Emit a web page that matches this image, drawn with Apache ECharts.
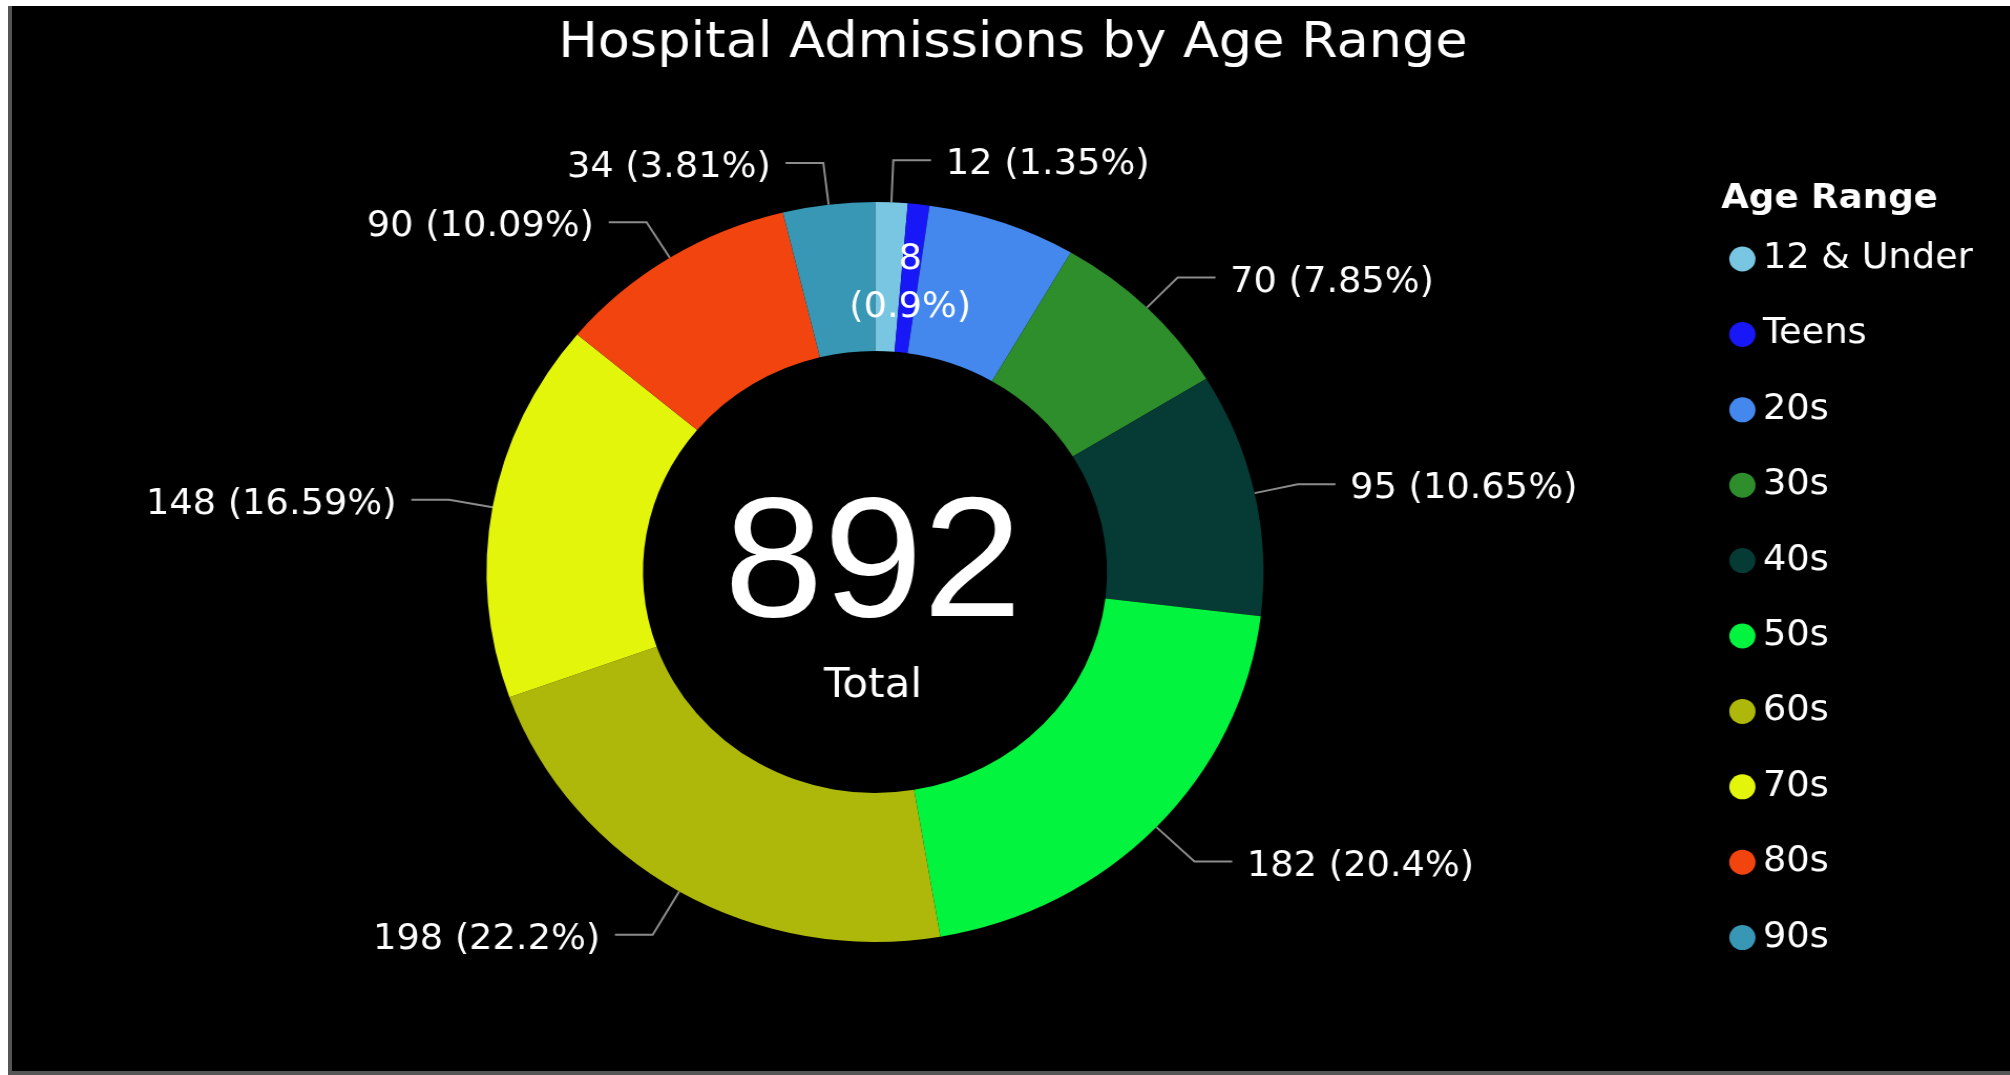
<!DOCTYPE html>
<html>
<head>
<meta charset="utf-8">
<script src="https://cdn.jsdelivr.net/npm/echarts@6/dist/echarts.min.js"></script>
<style>
  html, body { margin: 0; padding: 0; background: #ffffff; width: 2010px; height: 1075px; overflow: hidden; }
  #frame { position: absolute; left: 8px; top: 6px; width: 2002px; height: 1069px; background: #000;
           box-sizing: border-box; border-left: 4px solid #555; border-bottom: 4px solid #555; }
  /* the reference is stretched horizontally by ~5%; the chart is drawn at 2010/1.05 wide and scaled */
  #chart { position: absolute; left: 0; top: 0; width: 1914px; height: 1075px;
           transform: scaleX(1.05); transform-origin: 0 0; }
</style>
</head>
<body>
<div id="frame"></div>
<div id="chart"></div>
<script>
const chartTitle = 'Hospital Admissions by Age Range';
const legendTitle = 'Age Range';
const totalLabel = 'Total';
const categories = ['12 & Under', 'Teens', '20s', '30s', '40s', '50s', '60s', '70s', '80s', '90s'];
const admissions = [12, 8, 55, 70, 95, 182, 198, 148, 90, 34];
const insideLabelCats = ['Teens'];
const hiddenLabelCats = ['20s'];
const longLineCats = ['50s', '60s'];
const palette = ['#78C6E2', '#1717F7', '#4488EE', '#2E8E2C', '#053B34', '#03F43F', '#AEB80B', '#E4F50C', '#F2440F', '#3797B5'];

const total = admissions.reduce((a, b) => a + b, 0);
const FONT = 'DejaVu Sans';
const SX = 1.05;               // horizontal stretch applied by CSS
const px = x => x / SX;        // page x -> chart x

function pct(v) { return +(v / total * 100).toFixed(2); }

const txt = { color: '#ffffff', fontFamily: FONT, fontSize: 35 };

const data = categories.map((name, i) => {
  const item = { name: name, value: admissions[i] };
  if (insideLabelCats.includes(name)) {
    item.label = { position: 'inside',
                   formatter: p => '{sp| }\n{t|' + p.value + '}\n{t|(' + pct(p.value) + '%)}',
                   rich: { sp: { fontSize: 2, lineHeight: 18 }, t: Object.assign({ lineHeight: 48 }, txt) } };
    item.labelLine = { show: false };
  } else if (hiddenLabelCats.includes(name)) {
    item.label = { show: false };
    item.labelLine = { show: false };
  } else if (longLineCats.includes(name)) {
    item.labelLine = { length: 50 };
  }
  return item;
});

const chart = echarts.init(document.getElementById('chart'), null, { renderer: 'canvas', width: 1914, height: 1075 });
chart.setOption({
  backgroundColor: 'transparent',
  color: palette,
  animation: false,
  title: [
    { text: chartTitle, left: px(553), top: 14,
      textStyle: { color: '#ffffff', fontFamily: FONT, fontSize: 50, fontWeight: 'normal' } },
    { text: legendTitle, left: px(1716), top: 177,
      textStyle: { color: '#ffffff', fontFamily: FONT, fontSize: 34, fontWeight: 'bold' } }
  ],
  legend: {
    orient: 'vertical', left: px(1724), top: 236,
    icon: 'circle', itemWidth: 29, itemHeight: 25, itemGap: 39.4,
    textStyle: { color: '#ffffff', fontFamily: FONT, fontSize: 35, lineHeight: 36 },
    data: categories
  },
  graphic: [
    { type: 'text', style: { text: String(total), x: px(873), y: 569, fill: '#fff',
        font: '170px "Liberation Sans"', textAlign: 'center', textVerticalAlign: 'middle' } },
    { type: 'text', style: { text: totalLabel, x: px(873), y: 687, fill: '#fff',
        font: '40px "DejaVu Sans"', textAlign: 'center', textVerticalAlign: 'middle' } }
  ],
  series: [{
    type: 'pie',
    center: [px(875), 572],
    radius: [221, 370],
    startAngle: 90,
    clockwise: true,
    avoidLabelOverlap: true,
    itemStyle: { borderWidth: 0 },
    label: Object.assign({ show: true, position: 'outside', distanceToLabelLine: 14,
             formatter: p => '{sp| }\n{t|' + p.value + ' (' + pct(p.value) + '%)}',
             rich: { sp: { fontSize: 2, lineHeight: 10 }, t: Object.assign({ lineHeight: 40 }, txt) } }, txt),
    labelLine: { show: true, length: 42, length2: 36, lineStyle: { color: '#8c8c8c', width: 2 } },
    emphasis: { disabled: true },
    data: data
  }]
});
</script>
</body>
</html>
